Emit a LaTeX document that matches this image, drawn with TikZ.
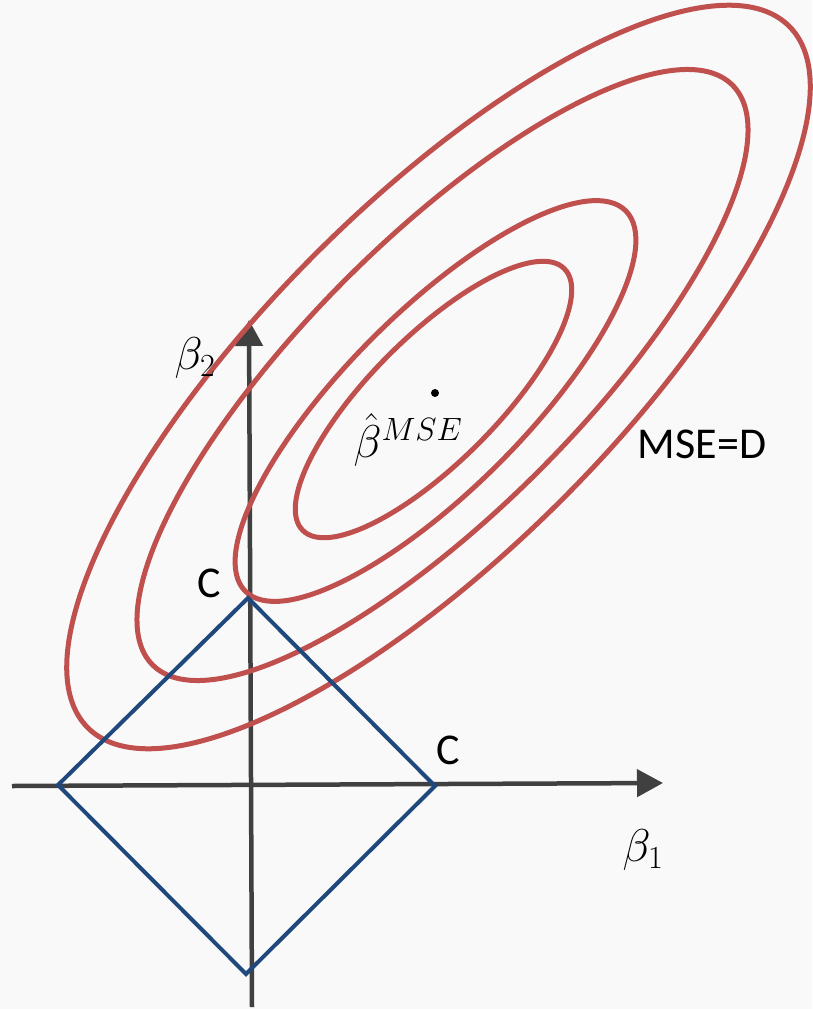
\documentclass[tikz,border=0pt]{standalone}
\usepackage{fix-cm}
\usepackage{fontspec}
\setmainfont{Carlito}
\usetikzlibrary{arrows.meta}
\definecolor{bg}{RGB}{249,249,249}
\definecolor{ellred}{RGB}{192,80,77}
\definecolor{diablue}{RGB}{31,73,125}
\definecolor{axgray}{RGB}{64,64,64}
\begin{document}
\begin{tikzpicture}[x=1pt,y=-1pt,
  redell/.style={draw=ellred, line width=5pt},
  diam/.style={draw=diablue, line width=4pt, line join=miter},
  axisline/.style={draw=axgray, line width=4.5pt, -{Triangle[length=26pt,width=27pt]}},
  lbl/.style={font=\fontsize{44}{48}\selectfont, text=black, inner sep=0pt},
  mlbl/.style={font=\fontsize{46}{50}\selectfont, text=black, inner sep=0pt}]
\fill[bg] (0,0) rectangle (812,1009);
\useasboundingbox (0,0) rectangle (812,1009);
% axes
\coordinate (xs) at (12,786);
\coordinate (xe) at (663,783);
\coordinate (ys) at (252,1007);
\coordinate (ye) at (249,320);
\draw[axisline] (xs) -- (xe);
\draw[axisline] (ys) -- (ye);
% MSE contours
\draw[redell, shift={(433.5,399.5)}, rotate=45] (0,0) ellipse [x radius=185, y radius=63];
\draw[redell, shift={(435.5,401)}, rotate=45] (0,0) ellipse [x radius=269, y radius=89];
\draw[redell, shift={(442.5,375)}, rotate=45] (0,0) ellipse [x radius=410, y radius=136];
\draw[redell, shift={(438.5,377)}, rotate=45] (0,0) ellipse [x radius=496, y radius=174];
% constraint region
\coordinate (dt) at (248,598);
\coordinate (dr) at (435,786);
\coordinate (db) at (246,974);
\coordinate (dl) at (58,785);
\draw[diam] (dt) -- (dr) -- (db) -- (dl) -- cycle;
% estimate
\node[circle, fill=black, inner sep=0pt, minimum size=8pt] (dot) at (435,393) {};
% labels
\node[mlbl] (b2) at (195,358) {$\beta_2$};
\node[mlbl] (b1) at (643,850) {$\beta_1$};
\node[mlbl] (bhat) at (408,440) {$\hat{\beta}^{MSE}$};
\node[lbl] (mse) at (702,444) {MSE=D};
\node[lbl] (c1) at (209,583) {C};
\node[lbl] (c2) at (448,750) {C};
\end{tikzpicture}
\end{document}
